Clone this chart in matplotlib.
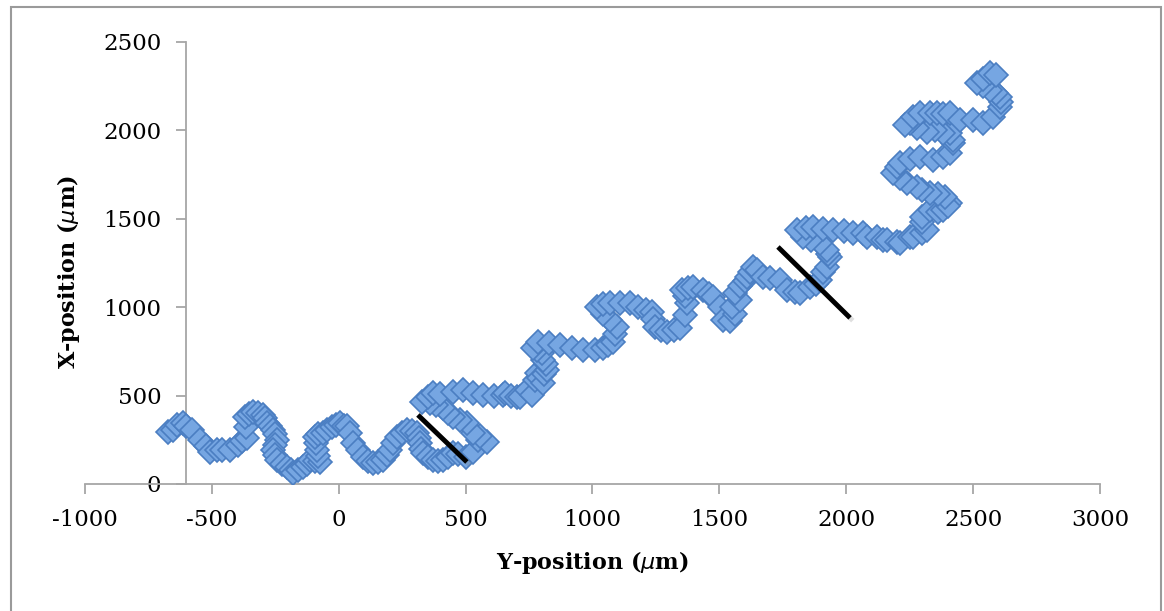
#!/usr/bin/env python3
"""
plot.py
Scatter of a cell track: X-position against Y-position in micrometres
"""
import matplotlib
matplotlib.use('Agg')
import matplotlib.pyplot as plt
import matplotlib.patheffects as pe
from matplotlib.patches import Rectangle

# Track points (Y-position, X-position), in um
y_pos = [
    -673, -655, -637, -614, -600, -578, -547, -525, -507, -480, -460, -429,
    -397, -380, -362, -365, -370, -355, -338, -320, -299, -290, -283, -270,
    -259, -250, -243, -250, -259, -250, -243, -225, -204, -190, -180, -160,
    -141, -125, -113, -95, -74, -80, -86, -90, -94, -80, -62, -45, -27, -10,
    5, 20, 33, 45, 56, 75, 96, 115, 135, 155, 174, 190, 202, 215, 230, 250,
    269, 290, 308, 315, 320, 326, 332, 350, 371, 390, 411, 430, 450, 470,
    500, 530, 549, 584, 557, 529, 505, 478, 450, 430, 411, 385, 360, 328,
    350, 371, 400, 450, 490, 530, 568, 610, 647, 655, 680, 702, 714, 742,
    762, 773, 781, 790, 805, 810, 820, 815, 805, 800, 780, 766, 785, 830,
    872, 919, 963, 1010, 1041, 1060, 1081, 1090, 1096, 1069, 1040, 1018,
    1040, 1069, 1110, 1148, 1179, 1210, 1234, 1240, 1246, 1270, 1294, 1320,
    1345, 1365, 1372, 1365, 1353, 1375, 1396, 1436, 1460, 1475, 1503, 1515,
    1540, 1560, 1550, 1580, 1560, 1580, 1600, 1609, 1620, 1633, 1650, 1672,
    1700, 1739, 1767, 1800, 1818, 1857, 1880, 1897, 1910, 1924, 1936, 1930,
    1924, 1897, 1860, 1830, 1806, 1840, 1869, 1910, 1948, 1990, 2027, 2066,
    2082, 2121, 2145, 2160, 2200, 2212, 2251, 2263, 2300, 2318, 2298, 2298,
    2330, 2360, 2381, 2409, 2400, 2390, 2360, 2330, 2300, 2279, 2239, 2210,
    2184, 2200, 2212, 2250, 2291, 2342, 2380, 2409, 2421, 2421, 2409, 2381,
    2350, 2318, 2280, 2263, 2250, 2230, 2263, 2291, 2330, 2358, 2380, 2409,
    2448, 2500, 2539, 2578, 2606, 2610, 2606, 2590, 2566, 2540, 2515, 2540,
    2566, 2590,
]
x_pos = [
    294, 305, 334, 345, 330, 305, 249, 215, 181, 190, 192, 192,
    221, 240, 260, 320, 379, 395, 407, 400, 390, 370, 345, 325,
    305, 280, 249, 220, 192, 165, 136, 115, 96, 80, 62, 80,
    96, 115, 136, 130, 124, 160, 192, 230, 266, 280, 288, 305, 322, 335,
    345, 330, 330, 290, 232, 190, 153, 130, 119, 125, 136, 165, 192, 230, 266, 290,
    305, 300, 288, 260, 232, 200, 175, 155, 136, 130, 136, 150, 175, 170,
    150, 180, 249, 238, 270, 288, 345, 360, 379, 400, 430, 445, 458, 464,
    490, 515, 510, 520, 532, 515, 503, 500, 503, 515, 500, 492, 492, 532,
    503, 588, 628, 600, 571, 620, 645, 680, 701, 740, 760, 769, 803, 795,
    786, 769, 758, 758, 769, 785, 803, 850, 888, 928, 960, 1001,
    1015, 1023, 1023, 1023, 1001, 985, 973, 930, 888, 870, 860, 870,
    882, 956, 1023, 1060, 1097, 1110, 1114, 1097, 1075, 1058, 1001, 928,
    920, 960, 1000, 1040, 1080, 1120, 1150, 1171, 1200, 1227, 1210, 1171,
    1165, 1154, 1097, 1085, 1080, 1114, 1130, 1154, 1200, 1227, 1284, 1300,
    1324, 1363, 1380, 1397, 1437, 1450, 1454, 1440, 1437, 1430, 1420, 1420,
    1397, 1397, 1380, 1380, 1369, 1363, 1397, 1397, 1420, 1437, 1480, 1510,
    1550, 1540, 1550, 1589, 1570, 1620, 1640, 1646, 1665, 1680, 1702, 1730,
    1759, 1790, 1816, 1840, 1850, 1833, 1850, 1872, 1929, 1946, 1985, 1985,
    2000, 1990, 2010, 2059, 2040, 2030, 2075, 2098, 2098, 2098, 2090, 2098,
    2059, 2059, 2042, 2076, 2132, 2160, 2189, 2210, 2228, 2250, 2268, 2290,
    2324, 2310,
]

# Two black marker lines drawn across the track
cut1_y = [312, 505]
cut1_x = [390, 124]
cut2_y = [1731, 2015]
cut2_x = [1340, 939]

x_ticks = list(range(-1000, 3001, 500))
y_ticks = list(range(0, 2501, 500))

plt.rcParams['font.family'] = ['DejaVu Serif']
plt.rcParams['axes.unicode_minus'] = False

fig = plt.figure(figsize=(11.64, 6.11), dpi=100)
ax = fig.add_axes([0.073, 0.208, 0.872, 0.7235])

ax.plot(y_pos, x_pos, linestyle='none', marker='D', markersize=12.5,
        markerfacecolor='#76a6e2', markeredgecolor='#4b7ec2',
        markeredgewidth=1.2, zorder=3)

shadow = [pe.SimpleLineShadow(offset=(2, -2), alpha=0.25,
                              shadow_color='gray'), pe.Normal()]
for ys, xs in [(cut1_y, cut1_x), (cut2_y, cut2_x)]:
    ax.plot(ys, xs, color='black', linewidth=3.5, solid_capstyle='butt',
            zorder=4, path_effects=shadow)

ax.set_xlim(-1000, 3000)
ax.set_ylim(0, 2500)
ax.set_xticks(x_ticks)
ax.set_yticks(y_ticks)

# axis styling like the spreadsheet chart
for side in ['top', 'right']:
    ax.spines[side].set_visible(False)
ax.spines['left'].set_position(('data', -600))
for side in ['left', 'bottom']:
    ax.spines[side].set_color('#a6a6a6')
    ax.spines[side].set_linewidth(1.3)
ax.tick_params(axis='both', colors='#a6a6a6', labelcolor='black',
               labelsize=16.5, width=1.3, length=7, direction='out')
ax.tick_params(axis='y', pad=11)
ax.tick_params(axis='x', pad=11)

ax.set_xlabel(r'Y-position ($\mu$m)', fontsize=16, fontweight='bold')
ax.set_ylabel(r'X-position ($\mu$m)', fontsize=16, fontweight='bold')
ax.xaxis.set_label_coords(0.5, -0.148)
ax.yaxis.set_label_coords(-0.003, 0.48)

# light grey chart border
fig.patches.append(Rectangle((0.0095, -0.02), 0.988, 1.0085, fill=False,
                             edgecolor='#9a9a9a', linewidth=1.5,
                             transform=fig.transFigure))

fig.savefig('out.png', dpi=100)
